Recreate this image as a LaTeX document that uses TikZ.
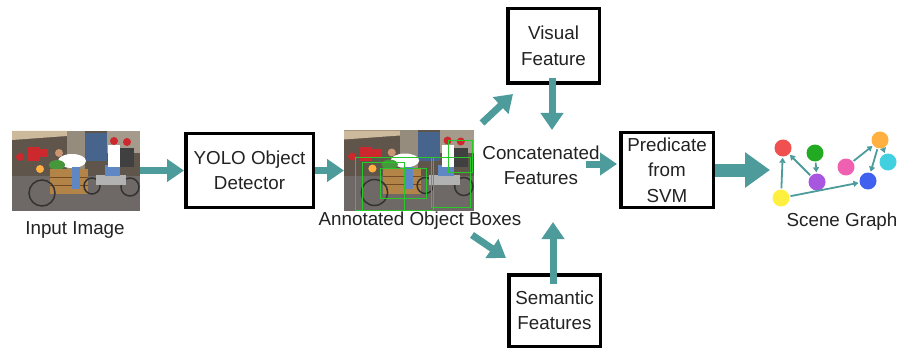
\documentclass[tikz,border=0pt]{standalone}
\usepackage{fontspec}
\setmainfont{Liberation Sans}
\usetikzlibrary{arrows.meta}
\definecolor{tealA}{RGB}{78,155,155}
\definecolor{txt}{RGB}{34,34,34}
\definecolor{bldg}{RGB}{95,85,75}
\definecolor{awn}{RGB}{205,185,155}
\definecolor{wallA}{RGB}{150,140,125}
\definecolor{crate}{RGB}{70,100,140}
\definecolor{wallB}{RGB}{165,155,140}
\definecolor{street}{RGB}{110,105,102}
\definecolor{basket}{RGB}{178,132,72}
\definecolor{skin}{RGB}{200,150,115}
\definecolor{jeans}{RGB}{95,135,195}
\definecolor{helmet}{RGB}{205,40,45}
\definecolor{veg}{RGB}{70,150,60}
\definecolor{boxgreen}{RGB}{40,200,40}
\definecolor{cRed}{RGB}{240,80,80}
\definecolor{cGreen}{RGB}{35,170,35}
\definecolor{cPurple}{RGB}{168,85,224}
\definecolor{cYellow}{RGB}{255,240,64}
\definecolor{cPink}{RGB}{240,96,176}
\definecolor{cOrange}{RGB}{255,176,64}
\definecolor{cCyan}{RGB}{64,208,224}
\definecolor{cBlue}{RGB}{64,96,240}
\newcommand\streetphoto{%
  \fill[bldg] (0,0) rectangle (128,48);
  \fill[awn] (0,0) -- (55,0) -- (55,5) -- (0,9) -- cycle;
  \fill[wallA] (55,0) rectangle (73,40);
  \fill[crate] (73,2) rectangle (95,30);
  \fill[wallB] (95,0) rectangle (128,22);
  \fill[street] (0,45) rectangle (128,80);
  \fill[helmet] (8,26) circle (4);
  \fill[helmet] (16,16) rectangle (28,30);
  \fill[helmet] (28,18) rectangle (36,26);
  \fill[cOrange] (28,38) circle (4);
  \fill[white] (60,30) ellipse (14 and 7);
  \fill[skin] (47,22) circle (4);
  \fill[veg] (45,34) ellipse (8 and 5);
  \fill[basket] (38,38) rectangle (76,63);
  \draw[brown!60!black, line width=0.6] (38,46) -- (76,46) (38,54) -- (76,54);
  \draw[black!80, line width=1.5] (30,62) circle (13);
  \fill[jeans] (60,36) rectangle (68,58);
  \draw[black!80, line width=1.5] (80,55) circle (8) (118,56) circle (9);
  \fill[gray!60] (84,44) rectangle (114,54);
  \fill[jeans] (93,34) rectangle (108,45);
  \fill[white] (96,14) rectangle (108,36);
  \fill[helmet] (102,10) circle (4);
  \fill[black!75] (108,17) rectangle (122,36);
  \fill[helmet] (115,11) circle (4);
}
\tikzset{
  flow/.style={draw=tealA, line width=7pt, -{Triangle[length=17pt,width=22pt]}},
  bigflow/.style={draw=tealA, line width=13pt, -{Triangle[length=25pt,width=34pt]}},
  stepbox/.style={draw=black, line width=3.5pt, inner sep=0pt, align=center, text=txt,
    font=\fontsize{18.8}{25.5}\selectfont},
  label/.style={inner sep=0pt, align=center, text=txt, font=\fontsize{18.8}{25.5}\selectfont},
  photo/.style={inner sep=0pt, outer sep=0pt, minimum width=#1pt, minimum height=80pt},
  sgnode/.style={circle, inner sep=0pt, minimum size=17pt, fill=#1},
  sgedge/.style={draw=tealA, line width=1.8pt, -{Triangle[length=5pt,width=6pt]}, shorten >=1pt, shorten <=1pt}
}
\begin{document}
\begin{tikzpicture}[x=1pt,y=-1pt]
\useasboundingbox (0,0) rectangle (899,350);
% input image
\node[photo=128] (img1) at (76,171) {};
\begin{scope}[shift={(12,131)}]
  \clip (0,0) rectangle (128,80);
  \streetphoto
\end{scope}
\node[label] (inlab) at (75,230) {Input Image};
% YOLO
\node[stepbox, minimum width=127.5pt, minimum height=73.5pt] (yolo) at (249.5,170.5) {YOLO Object\\Detector};
% annotated image
\node[photo=130] (img2) at (409,170.5) {};
\begin{scope}[shift={(344,130.5)}, x=1.0156pt]
  \clip (0,0) rectangle (128,80);
  \streetphoto
  \draw[boxgreen, line width=0.8pt] (36,38) rectangle (81,68) (11,27) rectangle (88,80)
    (86,27) rectangle (124,77) (103,10) rectangle (126,42) (18,32) rectangle (59,80);
\end{scope}
\node[label] (annlab) at (420,221) {Annotated Object Boxes};
% feature boxes
\node[stepbox, minimum width=91.5pt, minimum height=74.5pt] (visual) at (553.5,46) {Visual\\Feature};
\node[stepbox, minimum width=91.5pt, minimum height=71.5pt] (semantic) at (554.5,310.5) {Semantic\\Features};
\node[label] (concat) at (541,165.5) {Concatenated\\Features};
\node[stepbox, minimum width=92.5pt, minimum height=74.5pt] (pred) at (667,170) {Predicate\\from\\SVM};
% scene graph
\node[sgnode=cRed] (sgr) at (783,148) {};
\node[sgnode=cGreen] (sgg) at (815,153) {};
\node[sgnode=cPurple] (sgp) at (817,182) {};
\node[sgnode=cYellow] (sgy) at (781,198) {};
\node[sgnode=cPink] (sgk) at (846,167) {};
\node[sgnode=cOrange] (sgo) at (880,140) {};
\node[sgnode=cCyan] (sgc) at (888,162) {};
\node[sgnode=cBlue] (sgb) at (868,181) {};
\node[label] (sglab) at (842,222) {Scene Graph};
\draw[sgedge] (sgy) -- (sgr);
\draw[sgedge] (sgp) -- (sgr);
\draw[sgedge] (sgg) -- (sgp);
\draw[sgedge] (sgy) -- (sgb);
\draw[sgedge] (sgk) -- (sgo);
\draw[sgedge] (sgo) -- (sgb);
\draw[sgedge] (sgo) -- (sgc);
% arrow end points
\coordinate (upS) at (482,123);
\coordinate (upE) at (513,94);
\coordinate (dnS) at (472,235);
\coordinate (dnE) at (506,258);
\coordinate (vfE) at (552,130);
\coordinate (sfE) at (553,222);
\coordinate (cpS) at (586,164);
\coordinate (sgIn) at (770,170);
% arrows
\draw[flow] (img1.east |- yolo.west) -- (yolo.west);
\draw[flow] (yolo.east) -- (yolo.east -| img2.west);
\draw[flow] (upS) -- (upE);
\draw[flow] ([yshift=7pt]visual.south -| vfE) -- (vfE);
\draw[flow] (dnS) -- (dnE);
\draw[flow] ([yshift=-11pt]semantic.north -| sfE) -- (sfE);
\draw[flow] (cpS) -- ([xshift=-2pt]cpS -| pred.west);
\draw[bigflow] (pred.east) -- (sgIn);
\end{tikzpicture}
\end{document}
